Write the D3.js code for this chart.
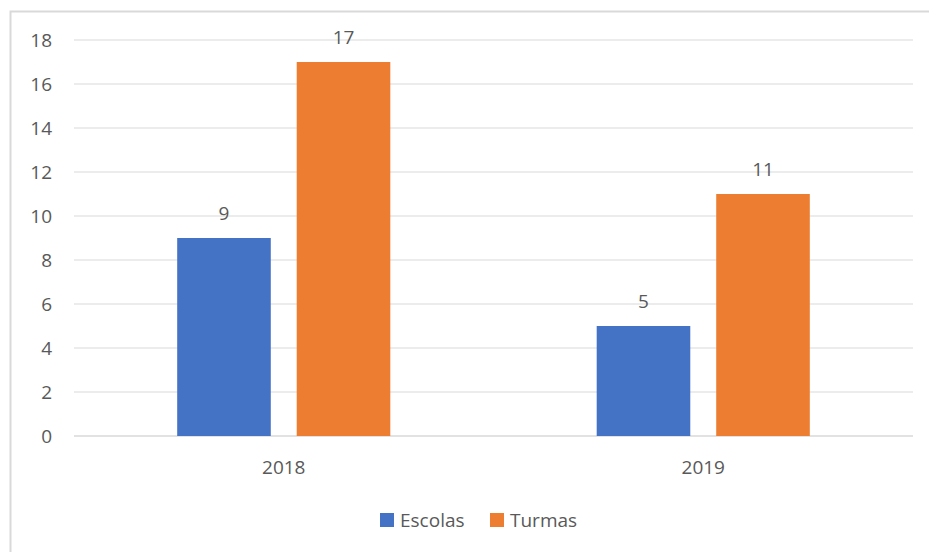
<!DOCTYPE html>
<head>
  <meta charset="utf-8">
  <script src="https://d3js.org/d3.v7.min.js"></script>
  <style>
    body { margin: 0; background: #fff; }
    svg { width: 929px; height: 552px; display: block; }
    text { font-family: "Open Sans", "Noto Sans", sans-serif; fill: #595959; }
  </style>
</head>
<body>
  <svg></svg>
  <script>
    const years = ['2018', '2019'];
    const seriesNames = ['Escolas', 'Turmas'];
    const escolas = [9, 5];
    const turmas = [17, 11];
    const yTicks = [0, 2, 4, 6, 8, 10, 12, 14, 16, 18];
    const colors = ['#4472c4', '#ed7d31'];

    const svg = d3.select('svg');
    const fontSize = '19px';

    // chart frame
    svg.append('rect')
      .attr('x', 10.5).attr('y', 11.5)
      .attr('width', 940).attr('height', 560)
      .attr('fill', 'none').attr('stroke', '#d9d9d9').attr('stroke-width', 2);

    const plot = { left: 74, right: 913, top: 40, bottom: 436 };

    const x0 = d3.scaleBand().domain(years).range([plot.left, plot.right]);
    const groupFrac = 0.508;
    const x1 = d3.scaleBand().domain(seriesNames)
      .range([0, x0.bandwidth() * groupFrac])
      .paddingInner(0.217).paddingOuter(0);
    const groupOffset = x0.bandwidth() * (1 - groupFrac) / 2;
    const y = d3.scaleLinear().domain([0, 18]).range([plot.bottom, plot.top]);

    // gridlines
    svg.append('g').selectAll('line').data(yTicks).enter().append('line')
      .attr('x1', plot.left).attr('x2', plot.right)
      .attr('y1', d => y(d)).attr('y2', d => y(d))
      .attr('stroke', '#d9d9d9').attr('stroke-width', d => d === 0 ? 1.5 : 1);

    // y tick labels
    svg.append('g').selectAll('text').data(yTicks).enter().append('text')
      .attr('x', 52).attr('y', d => y(d))
      .attr('dy', '0.36em').attr('text-anchor', 'end')
      .style('font-size', fontSize)
      .text(d => d);

    // x labels
    svg.append('g').selectAll('text').data(years).enter().append('text')
      .attr('x', d => x0(d) + x0.bandwidth() / 2)
      .attr('y', 474)
      .attr('text-anchor', 'middle')
      .style('font-size', fontSize)
      .text(d => d);

    const rows = years.map((yr, i) => ({
      year: yr,
      values: [
        { key: 'Escolas', value: escolas[i], color: colors[0] },
        { key: 'Turmas', value: turmas[i], color: colors[1] }
      ]
    }));

    const groups = svg.append('g').selectAll('g').data(rows).enter().append('g')
      .attr('transform', d => `translate(${x0(d.year) + groupOffset},0)`);

    groups.selectAll('rect').data(d => d.values).enter().append('rect')
      .attr('x', d => x1(d.key))
      .attr('y', d => y(d.value))
      .attr('width', x1.bandwidth())
      .attr('height', d => y(0) - y(d.value))
      .attr('fill', d => d.color);

    groups.selectAll('text').data(d => d.values).enter().append('text')
      .attr('x', d => x1(d.key) + x1.bandwidth() / 2)
      .attr('y', d => y(d.value) - 18)
      .attr('text-anchor', 'middle')
      .style('font-size', fontSize)
      .text(d => d.value);

    // legend
    const legendItems = [{ name: seriesNames[0], x: 380 }, { name: seriesNames[1], x: 490 }];
    const legend = svg.append('g').selectAll('g').data(legendItems).enter().append('g')
      .attr('transform', d => `translate(${d.x},513)`);
    legend.append('rect')
      .attr('width', 14).attr('height', 14)
      .attr('fill', (d, i) => colors[i]);
    legend.append('text')
      .attr('x', 20).attr('y', 14)
      .style('font-size', fontSize)
      .text(d => d.name);
  </script>
</body>
